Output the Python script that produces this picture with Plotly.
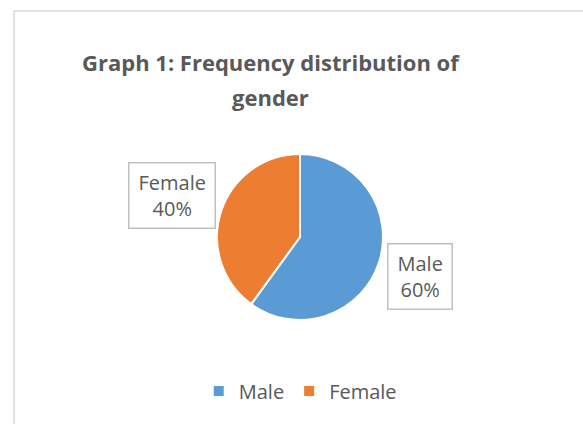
import math
import plotly.graph_objects as go

# ---- data ----
categories = ["Male", "Female"]
values = [60, 40]
colors = ["#5B9BD5", "#ED7D31"]
title_lines = ["Graph 1: Frequency distribution of", "gender"]

W, H = 583, 424
FONT = "Open Sans"
TXT = "#595959"

# pie geometry (pixels)
cx, cy, r = 300, 237, 83

fig = go.Figure()
fig.add_trace(go.Pie(
    labels=categories,
    values=values,
    sort=False,
    direction="clockwise",
    rotation=0,
    marker=dict(colors=colors, line=dict(color="white", width=2)),
    textinfo="none",
    hoverinfo="label+percent",
    domain=dict(x=[(cx - r) / W, (cx + r) / W],
                y=[(H - cy - r) / H, (H - cy + r) / H]),
))

annotations = []
# data labels in boxes, positioned from slice mid-angles
total = sum(values)
cum = 0
factor = 1.57
for lab, v in zip(categories, values):
    mid = (cum + v / 2) / total * 2 * math.pi
    cum += v
    dx = math.sin(mid) * r * factor
    dy = math.cos(mid) * r * factor
    pct = round(v / total * 100)
    annotations.append(dict(
        x=(cx + dx - 4) / W, y=(H - cy + dy + 1) / H, xref="paper", yref="paper",
        text=f"{lab}<br>{pct}%", showarrow=False,
        font=dict(family=FONT, size=20, color=TXT),
        bordercolor="#BFBFBF", borderwidth=1.5, borderpad=9, bgcolor="white",
        height=46, valign="middle",
        xanchor="center", yanchor="middle",
    ))

# title lines
for i, line in enumerate(title_lines):
    annotations.append(dict(
        x=270.5 / W,
        y=(H - (62 + 35 * i)) / H, xref="paper", yref="paper",
        text=f"<b>{line}</b>", showarrow=False,
        font=dict(family=FONT, size=22, color=TXT),
        xanchor="center", yanchor="middle",
    ))

fig.update_layout(
    width=W, height=H,
    margin=dict(l=0, r=0, t=0, b=0),
    paper_bgcolor="white", plot_bgcolor="white",
    showlegend=True,
    legend=dict(orientation="h", x=0.515, xanchor="center", y=(H - 391) / H,
                yanchor="middle", font=dict(family=FONT, size=20, color=TXT),
                itemwidth=30, traceorder="normal"),
    annotations=annotations,
    shapes=[dict(type="path", xref="paper", yref="paper",
                 path=f"M {14/W},0 L {14/W},{(H-11)/H} L 1,{(H-11)/H}",
                 line=dict(color="#D9D9D9", width=1.5))],
)

fig.write_html("out.html", config={"displayModeBar": False},
               post_script="document.body.style.margin='0';")
